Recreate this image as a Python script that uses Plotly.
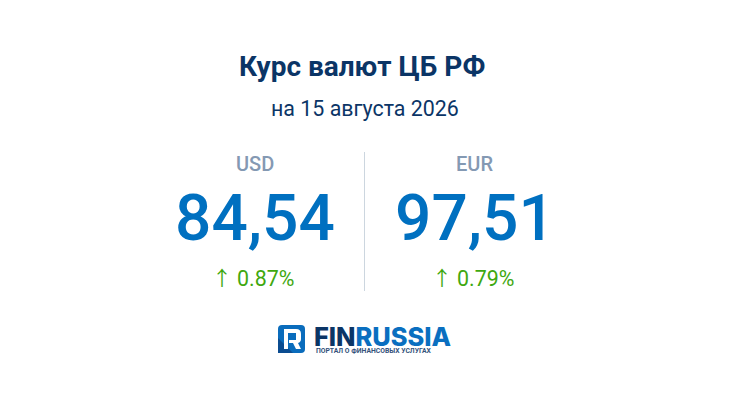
import plotly.graph_objects as go

W, H = 730, 410

# values
TITLE = "Курс валют ЦБ РФ"
SUBTITLE = "на 15 августа 2026"
currencies = ["USD", "EUR"]
rates = ["84,54", "97,51"]
changes = ["0.87%", "0.79%"]
centers = [255, 474.5]

NAVY = "#0b3566"
BLUE = "#0070c0"
GREY = "#8499b3"
GREEN = "#3fa80f"
FONT = "Roboto"


def label(x, y, text, size, color, weight=400, anchor="center", family=FONT):
    # y is the vertical middle of the text, in pixels from the top
    return dict(
        x=x, y=y, xref="x", yref="y", text=text,
        showarrow=False, xanchor=anchor, yanchor="middle",
        font=dict(family=family, size=size, color=color, weight=weight),
    )


fig = go.Figure()

annotations = [
    label(362, 66, TITLE, 28, NAVY, weight=700),
    label(365, 108, SUBTITLE, 21.4, NAVY),
]
for cur, rate, chg, cx in zip(currencies, rates, changes, centers):
    annotations.append(label(cx, 164, cur, 20, GREY, weight=500))
    annotations.append(label(cx, 218, rate, 64, BLUE, weight=500))
    annotations.append(label(cx - 33, 277, "↑", 20, GREEN, family="Noto Sans CJK SC"))
    annotations.append(label(cx + 10.5, 278, chg, 21.4, GREEN))

# logo text
annotations.append(label(312, 336.5, "FIN<span style='color:#0a6fc0'>RUSSIA</span>", 25.4, NAVY,
                         weight=800, anchor="left", family="Inter"))
annotations.append(label(313.5, 350.5, "ПОРТАЛ О ФИНАНСОВЫХ УСЛУГАХ", 6.8, "#33517a",
                         weight=700, anchor="left"))

shapes = [
    # divider
    dict(type="line", x0=364.5, x1=364.5, y0=152, y1=291, xref="x", yref="y",
         line=dict(color="#ccd6df", width=1)),
    # logo badge
    dict(type="path", xref="x", yref="y", fillcolor="#0a6cbc", line=dict(width=0),
         path="M 278 329 Q 278 325 282 325 L 301 325 Q 305 325 305 329 L 305 349 Q 305 353 301 353 L 278 353 Z"),
    dict(type="path", xref="x", yref="y", fillcolor="#0b4c90", line=dict(width=0),
         path="M 278 338 L 293 353 L 278 353 Z"),
    # the R inside the badge
    dict(type="path", xref="x", yref="y", fillcolor="white", line=dict(width=0),
         path="M 284 329 L 296 329 Q 301 329 301 334 L 301 339 Q 301 342 298 343 L 301 349 "
              "L 296 349 L 293 343 L 289 343 L 289 340 L 296 340 L 296 333 L 288 333 L 288 349 L 284 349 Z"),
]

fig.update_layout(
    width=W, height=H,
    margin=dict(l=0, r=0, t=0, b=0),
    paper_bgcolor="white", plot_bgcolor="white",
    showlegend=False,
    xaxis=dict(range=[0, W], visible=False, fixedrange=True),
    yaxis=dict(range=[H, 0], visible=False, fixedrange=True),
    annotations=annotations,
    shapes=shapes,
    font=dict(family=FONT),
)

# the page's default body margin would push the figure 8px down and right
fig.write_html("out.html", config=dict(displayModeBar=False),
               post_script="document.body.style.margin='0';")
